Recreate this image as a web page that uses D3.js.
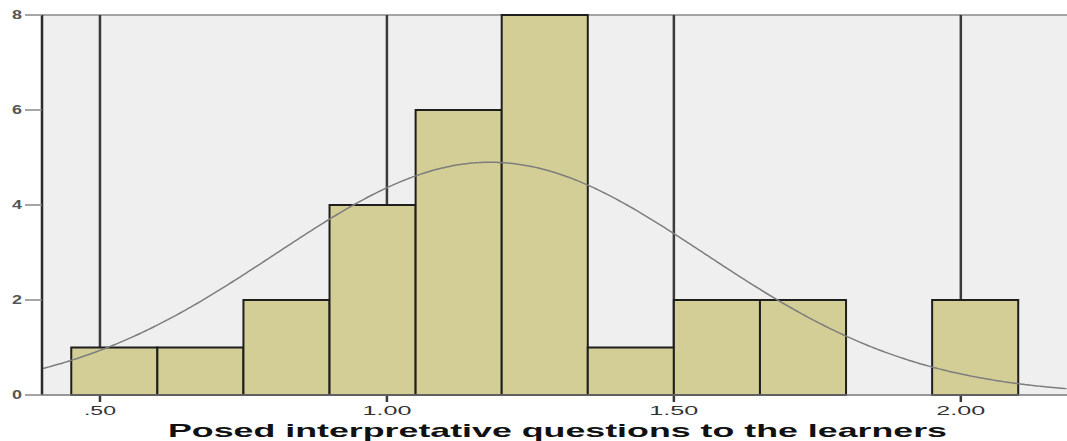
<!DOCTYPE html>
<html>
<head>
<meta charset="utf-8">
<script src="https://cdn.jsdelivr.net/npm/d3@7"></script>
<style>
  body { margin: 0; background: #fff; }
  text { font-family: "Liberation Sans", Arial, sans-serif; }
</style>
</head>
<body>
<svg width="1067" height="441"></svg>
<script>
// histogram bins (lower edge, upper edge) and frequencies
const binStarts = [0.45, 0.60, 0.75, 0.90, 1.05, 1.20, 1.35, 1.50, 1.65, 1.80, 1.95];
const binWidth = 0.15;
const counts = [1, 1, 2, 4, 6, 8, 1, 2, 2, 0, 2];

const xTicks = [0.5, 1.0, 1.5, 2.0];
const xTickLabels = [".50", "1.00", "1.50", "2.00"];
const yTicks = [0, 2, 4, 6, 8];

// fitted normal curve
const curveMean = 1.18;
const curveSd = 0.374;
const curvePeak = 4.9;

const xTitle = "Posed interpretative questions to the learners";

const svg = d3.select("svg");
const width = +svg.attr("width");
const height = +svg.attr("height");
const margin = {top: 15, right: 0, bottom: 46, left: 42};

const x = d3.scaleLinear()
	.domain([0.399, 2.185])
	.range([margin.left, width - margin.right]);
const y = d3.scaleLinear()
	.domain([0, 8])
	.range([height - margin.bottom, margin.top]);

// plot background
svg.append("rect")
	.attr("x", margin.left)
	.attr("y", margin.top)
	.attr("width", width - margin.left - margin.right)
	.attr("height", y(0) - margin.top)
	.attr("fill", "#efefef");

// top frame line
svg.append("line")
	.attr("x1", margin.left).attr("x2", width)
	.attr("y1", margin.top).attr("y2", margin.top)
	.attr("stroke", "#8a8a8a").attr("stroke-width", 1.5);

// vertical reference lines at the x ticks
svg.selectAll("line.vgrid")
	.data(xTicks)
	.enter()
	.append("line")
		.attr("class", "vgrid")
		.attr("x1", d => x(d)).attr("x2", d => x(d))
		.attr("y1", margin.top).attr("y2", y(0) + 7)
		.attr("stroke", "#3a3a3a").attr("stroke-width", 2.5);

// bars
svg.selectAll("rect.bar")
	.data(binStarts.map((s, i) => ({s: s, n: counts[i]})).filter(d => d.n > 0))
	.enter()
	.append("rect")
		.attr("class", "bar")
		.attr("x", d => x(d.s))
		.attr("width", d => x(d.s + binWidth) - x(d.s))
		.attr("y", d => y(d.n))
		.attr("height", d => y(0) - y(d.n))
		.attr("fill", "#d3ce96")
		.attr("stroke", "#1e1e1e")
		.attr("stroke-width", 2);

// normal curve
const curveXs = d3.range(0.399, 2.186, 0.005);
const line = d3.line()
	.x(d => x(d))
	.y(d => y(curvePeak * Math.exp(-0.5 * Math.pow((d - curveMean) / curveSd, 2))))
	.curve(d3.curveBasis);
svg.append("path")
	.datum(curveXs)
	.attr("d", line)
	.attr("fill", "none")
	.attr("stroke", "#7d7d7d")
	.attr("stroke-width", 1.5);

// left axis line
svg.append("line")
	.attr("x1", margin.left).attr("x2", margin.left)
	.attr("y1", margin.top).attr("y2", y(0))
	.attr("stroke", "#2a2a2a").attr("stroke-width", 2.5);

// baseline
svg.append("line")
	.attr("x1", margin.left).attr("x2", width)
	.attr("y1", y(0)).attr("y2", y(0))
	.attr("stroke", "#777").attr("stroke-width", 1.5);

// y ticks
const yAxis = svg.append("g");
yAxis.selectAll("line")
	.data(yTicks)
	.enter()
	.append("line")
		.attr("x1", 25).attr("x2", margin.left)
		.attr("y1", d => y(d)).attr("y2", d => y(d))
		.attr("stroke", "#888").attr("stroke-width", 1.5);
yAxis.selectAll("text")
	.data(yTicks)
	.enter()
	.append("text")
		.text(d => d)
		.attr("x", 17)
		.attr("y", d => y(d) + 4)
		.attr("text-anchor", "middle")
		.attr("font-size", "12px")
		.attr("font-weight", "bold")
		.attr("fill", "#555")
		.attr("textLength", 10)
		.attr("lengthAdjust", "spacingAndGlyphs");

// x tick labels
svg.selectAll("text.xtick")
	.data(xTicks)
	.enter()
	.append("text")
		.attr("class", "xtick")
		.text((d, i) => xTickLabels[i])
		.attr("x", d => x(d))
		.attr("y", y(0) + 20)
		.attr("text-anchor", "middle")
		.attr("font-size", "12px")
		.attr("fill", "#333")
		.attr("textLength", (d, i) => xTickLabels[i].length === 3 ? 32 : 49)
		.attr("lengthAdjust", "spacingAndGlyphs");

// x title
svg.append("text")
	.text(xTitle)
	.attr("x", 168)
	.attr("y", 437)
	.attr("font-size", "19px")
	.attr("font-weight", "bold")
	.attr("fill", "#111")
	.attr("textLength", 779)
	.attr("lengthAdjust", "spacingAndGlyphs");
</script>
</body>
</html>
